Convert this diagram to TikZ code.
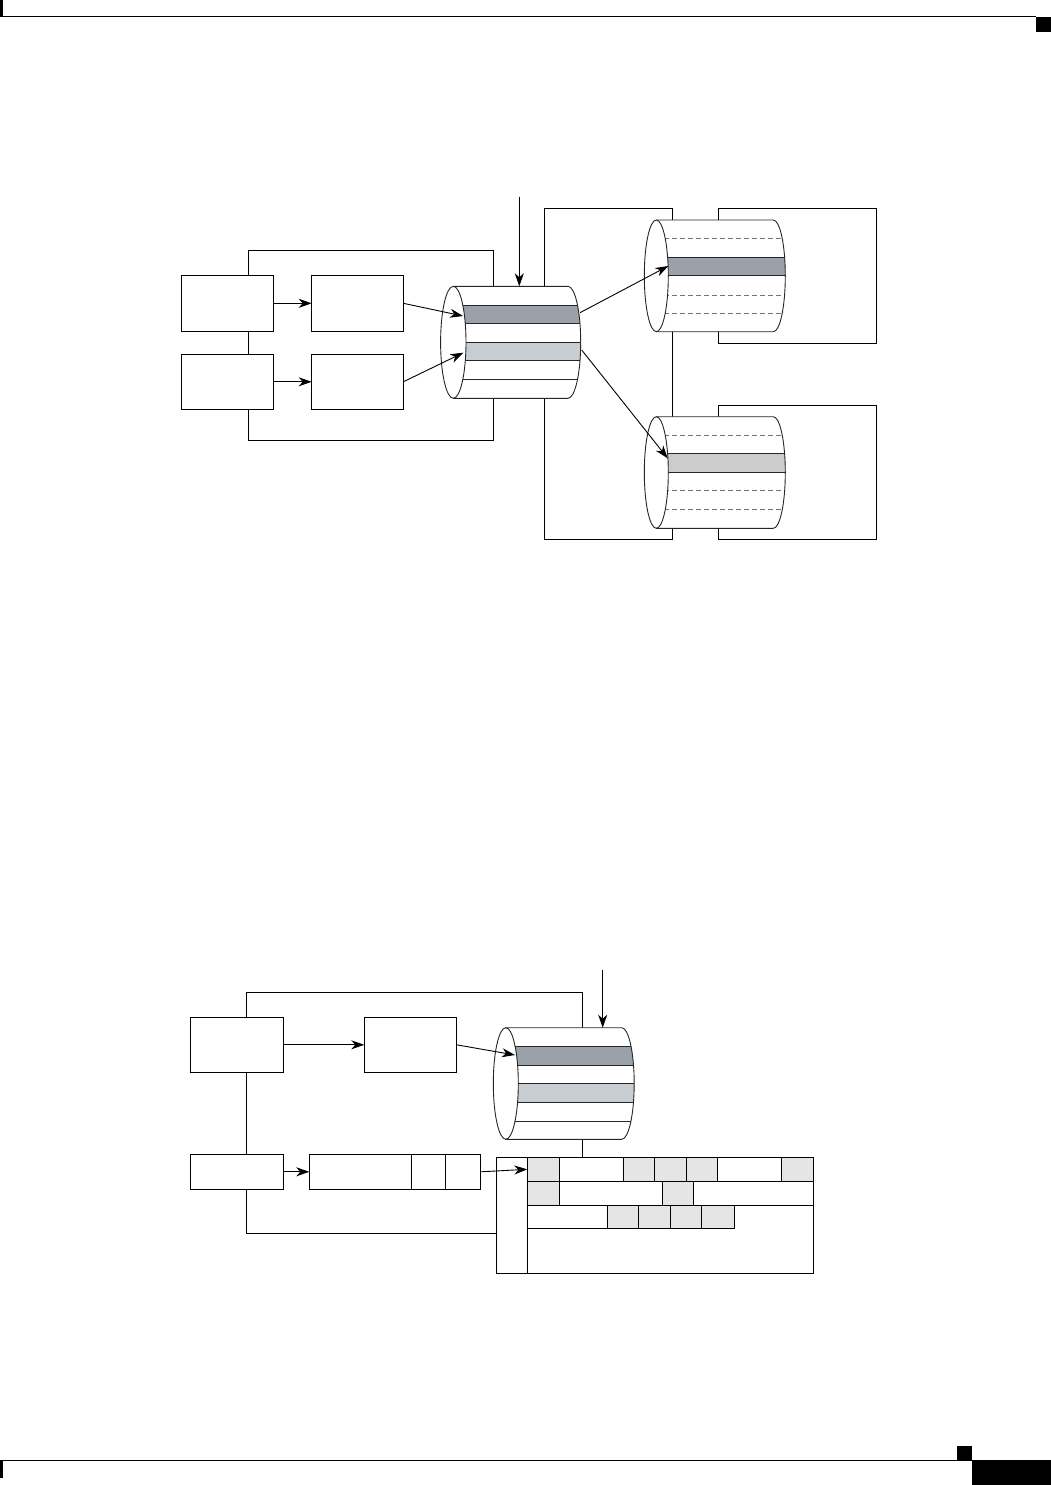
\documentclass[tikz,border=0pt]{standalone}
\usetikzlibrary{arrows.meta}
\definecolor{darkband}{HTML}{9BA1A8}
\definecolor{lightband}{HTML}{C8CCD3}
\definecolor{midband}{HTML}{CCCCCC}
\definecolor{cellgray}{HTML}{E5E5E5}
\tikzset{
  box/.style={draw, line width=0.9pt, inner sep=0pt, outer sep=0pt},
  frame/.style={draw, line width=0.9pt},
  arr/.style={-{Stealth[length=13pt,width=9pt,inset=4pt]}, line width=0.9pt},
  cylline/.style={draw=black!85, line width=0.9pt},
  solidsep/.style={draw=black!85, line width=0.9pt},
  dashsep/.style={draw=black!55, line width=0.9pt, dash pattern=on 5pt off 3pt},
}
% rectangular node from corner coordinates: name, x1, y1, x2, y2, fill
\newcommand\rbox[6]{%
  \pgfmathsetmacro\rbw{#4-#2}%
  \pgfmathsetmacro\rbh{#5-#3}%
  \node[box, fill=#6, minimum width=\rbw pt, minimum height=\rbh pt] (#1) at ({(#2+#4)/2},{(#3+#5)/2}) {};}
% horizontal cylinder: xl, xr, ytop, ybottom, rx, stripes
\newcommand\hcyl[6]{%
  \pgfmathsetmacro\cyc{(#3+#4)/2}%
  \pgfmathsetmacro\cry{(#4-#3)/2}%
  \fill[white] (#1,#3) -- (#2,#3) arc[start angle=-90,end angle=90,x radius=#5,y radius=\cry] -- (#1,#4) arc[start angle=90,end angle=270,x radius=#5,y radius=\cry] -- cycle;
  \begin{scope}
    \clip (#1,#3) arc[start angle=-90,end angle=90,x radius=#5,y radius=\cry] -- (#2,#4) arc[start angle=90,end angle=-90,x radius=#5,y radius=\cry] -- cycle;
    #6
  \end{scope}
  \draw[cylline] (#1,#3) -- (#2,#3) arc[start angle=-90,end angle=90,x radius=#5,y radius=\cry] -- (#1,#4);
  \draw[cylline] (#1,\cyc) ellipse[x radius=#5, y radius=\cry];
}
\newcommand\cylband[3]{\fill[#1] (0,#2) rectangle (1051,#3); \draw[solidsep] (0,#2) -- (1051,#2) (0,#3) -- (1051,#3);}
\newcommand\cylsep[2]{\draw[#1] (0,#2) -- (1051,#2);}
\begin{document}
\begin{tikzpicture}[x=1pt,y=-1pt]
\useasboundingbox (0,0) rectangle (1051,1485);
% page decorations
\draw[line width=1.2pt] (0,16.8) -- (1036,16.8);
\fill (0,0) rectangle (3,16.8);
\fill (1036,17.3) rectangle (1051,31.7);
\draw[line width=1.2pt] (0,1460.5) -- (957,1460.5);
\fill (0,1460.5) rectangle (3.3,1478);
\fill (956.7,1446) rectangle (971.7,1460.5);
\fill (971.7,1460) rectangle (1051,1485);

% ===== top diagram =====
\draw[frame] (248.3,250.7) rectangle (493.3,440.7);
\draw[frame] (544.3,208.3) rectangle (672.7,539);
\rbox{C1}{718.3}{208.3}{876.7}{343.3}{white}
\rbox{C2}{718.3}{405}{876.7}{539}{white}
\rbox{A1}{181.7}{275.3}{273.3}{331.3}{white}
\rbox{B1}{311.7}{275.3}{403.3}{331.3}{white}
\rbox{A2}{181.7}{354.3}{273.3}{409.3}{white}
\rbox{B2}{311.7}{354.3}{403.3}{409.3}{white}

\hcyl{453.3}{568}{286.3}{398.3}{12.7}{%
  \cylband{darkband}{305}{323.3}
  \cylband{lightband}{342.3}{360.7}
  \cylsep{solidsep}{379.3}}
\hcyl{656.3}{773.3}{220}{331.7}{12}{%
  \cylsep{dashsep}{238.3}
  \cylband{darkband}{257.3}{275.7}
  \cylsep{dashsep}{295}
  \cylsep{dashsep}{313.3}}
\hcyl{656.3}{773.3}{416.7}{528.3}{12}{%
  \cylsep{dashsep}{435}
  \cylband{midband}{453.3}{472.3}
  \cylsep{dashsep}{490.7}
  \cylsep{dashsep}{509.3}}

\coordinate (topin) at (519.3,196.7);
\coordinate (cyltop) at (519.3,286.3);
\coordinate (cin1) at (463,316);
\coordinate (cin2) at (463.3,352.7);
\coordinate (cout1) at (580,312.7);
\coordinate (cout2) at (581.7,350);
\coordinate (r1in) at (668.3,266);
\coordinate (r2in) at (667.7,458.3);
\draw[arr] (topin) -- (cyltop);
\draw[arr] (A1) -- (B1);
\draw[arr] (A2) -- (B2);
\draw[arr] (B1.east) -- (cin1);
\draw[arr] (B2.east) -- (cin2);
\draw[arr] (cout1) -- (r1in);
\draw[arr] (cout2) -- (r2in);

% ===== bottom diagram =====
\draw[frame] (496.7,1233.3) -| (246.7,992.3) -| (582.3,1157.3);
\rbox{D1}{190.7}{1017.3}{283.3}{1072.3}{white}
\rbox{E1}{364.3}{1017.3}{456.7}{1072.3}{white}
\rbox{D2}{190.7}{1154.3}{283.3}{1189.3}{white}
\rbox{F1}{309.3}{1154.3}{411.7}{1189.3}{white}
\rbox{F2}{411.7}{1154.3}{445.7}{1189.3}{white}
\rbox{F3}{445.7}{1154.3}{480.7}{1189.3}{white}

\hcyl{505.8}{621.7}{1027.7}{1139.3}{12.5}{%
  \cylband{darkband}{1046.7}{1065}
  \cylband{lightband}{1083.7}{1102.3}
  \cylsep{solidsep}{1121}}

% table
\rbox{T}{496.7}{1157.3}{813.3}{1273.3}{white}
\draw[frame] (527.3,1157.3) -- (527.3,1273.3);
\rbox{T11}{527.3}{1157.3}{559.3}{1181.3}{cellgray}
\rbox{T12}{559.3}{1157.3}{623.3}{1181.3}{white}
\rbox{T13}{623.3}{1157.3}{654.7}{1181.3}{cellgray}
\rbox{T14}{654.7}{1157.3}{686.7}{1181.3}{cellgray}
\rbox{T15}{686.7}{1157.3}{717.7}{1181.3}{cellgray}
\rbox{T16}{717.7}{1157.3}{781.7}{1181.3}{white}
\rbox{T17}{781.7}{1157.3}{813.3}{1181.3}{cellgray}
\rbox{T21}{527.3}{1181.3}{559.3}{1205.3}{cellgray}
\rbox{T22}{559.3}{1181.3}{662.3}{1205.3}{white}
\rbox{T23}{662.3}{1181.3}{693.3}{1205.3}{cellgray}
\rbox{T24}{693.3}{1181.3}{813.3}{1205.3}{white}
\rbox{T31}{527.3}{1205.3}{607.3}{1228.3}{white}
\rbox{T32}{607.3}{1205.3}{638.3}{1228.3}{cellgray}
\rbox{T33}{638.3}{1205.3}{670.7}{1228.3}{cellgray}
\rbox{T34}{670.7}{1205.3}{701.7}{1228.3}{cellgray}
\rbox{T35}{701.7}{1205.3}{734}{1228.3}{cellgray}

\coordinate (botin) at (602.7,970);
\coordinate (cyl2top) at (602.7,1027.7);
\coordinate (cin3) at (515,1055);
\draw[arr] (botin) -- (cyl2top);
\draw[arr] (D1) -- (E1);
\draw[arr] (E1.east) -- (cin3);
\draw[arr] (D2) -- (F1);
\draw[arr] (F3.east) -- (T11.west);
\end{tikzpicture}
\end{document}
